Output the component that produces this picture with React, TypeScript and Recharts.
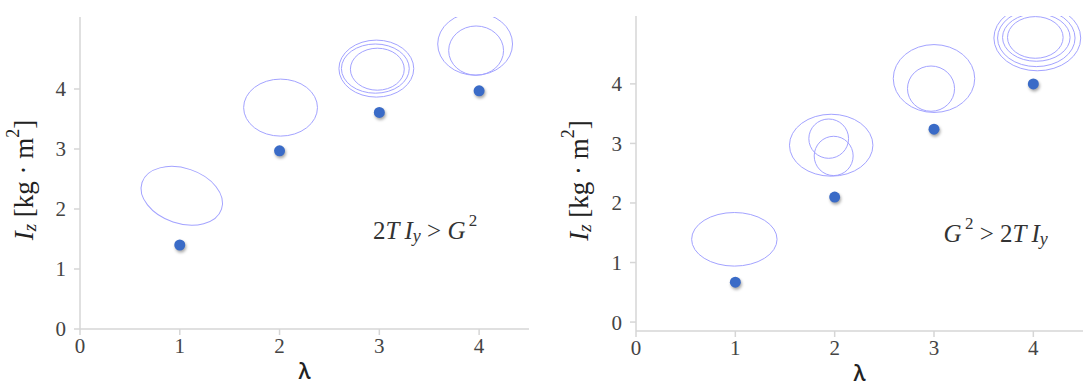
import React from 'react';
import { ScatterChart, Scatter, XAxis, YAxis } from 'recharts';

// ---- data ----
const lambdaTicks = [0, 1, 2, 3, 4];
const izTicks = [0, 1, 2, 3, 4];
const lambdaValues = [1, 2, 3, 4];
const izCaseA = [1.4, 2.97, 3.61, 3.97]; // 2TIy > G^2
const izCaseB = [0.67, 2.1, 3.24, 4.0]; // G^2 > 2TIy

// ellipse outlines: centre (x = λ, y = Iz), semi-axes in axis units, tilt in degrees
const ellipsesCaseA = [
  { x: 1.02, y: 2.22, rx: 0.42, ry: 0.46, tilt: 18.5 },
  { x: 2.01, y: 3.69, rx: 0.37, ry: 0.475, tilt: 0 },
  { x: 2.97, y: 4.34, rx: 0.375, ry: 0.475, tilt: 0 },
  { x: 2.96, y: 4.34, rx: 0.34, ry: 0.41, tilt: 0 },
  { x: 2.98, y: 4.33, rx: 0.27, ry: 0.35, tilt: 0 },
  { x: 3.96, y: 4.75, rx: 0.375, ry: 0.52, tilt: 0 },
  { x: 3.97, y: 4.64, rx: 0.275, ry: 0.41, tilt: 0 },
];
const ellipsesCaseB = [
  { x: 0.99, y: 1.39, rx: 0.43, ry: 0.45, tilt: 0 },
  { x: 1.965, y: 2.97, rx: 0.42, ry: 0.52, tilt: 0 },
  { x: 1.94, y: 3.08, rx: 0.2, ry: 0.33, tilt: 0 },
  { x: 1.99, y: 2.79, rx: 0.196, ry: 0.33, tilt: 0 },
  { x: 3.0, y: 4.09, rx: 0.41, ry: 0.57, tilt: 0 },
  { x: 2.97, y: 3.92, rx: 0.237, ry: 0.38, tilt: 0 },
  { x: 4.04, y: 4.77, rx: 0.437, ry: 0.55, tilt: 0 },
  { x: 4.03, y: 4.77, rx: 0.39, ry: 0.48, tilt: 0 },
  { x: 4.03, y: 4.78, rx: 0.34, ry: 0.4, tilt: 0 },
  { x: 4.02, y: 4.78, rx: 0.28, ry: 0.35, tilt: 0 },
];
const noteCaseA = [{ x: 3.46, y: 1.65 }];
const noteCaseB = [{ x: 3.62, y: 1.5 }];

// ---- styles ----
const SERIF = "'Liberation Serif', 'DejaVu Serif', serif";
const AXIS_COLOR = '#d6d6d6';
const TICK_TEXT = '#444';
const DOT_COLOR = '#3a6bc7';
const ELLIPSE_COLOR = '#a3a3ff';

const W = 546;
const H = 390;
const X_AXIS_H = 30;
const X_DOMAIN: [number, number] = [0, 4.5];

type PanelProps = {
  iz: number[];
  ellipses: { x: number; y: number; rx: number; ry: number; tilt: number }[];
  note: { x: number; y: number }[];
  noteKind: 'A' | 'B';
  yDomain: [number, number];
  margin: { top: number; right: number; bottom: number; left: number };
  yAxisWidth: number;
  labelX: number;
};

function NoteText({ kind, cx, cy }: { kind: 'A' | 'B'; cx: number; cy: number }) {
  const common = { fontFamily: SERIF, fontSize: 25, fill: '#333' } as const;
  if (kind === 'A') {
    return (
      <text x={cx} y={cy} textAnchor="middle" dominantBaseline="central" {...common}>
        <tspan>2</tspan>
        <tspan fontStyle="italic">{'T\u2009I'}</tspan>
        <tspan fontStyle="italic" fontSize={18} dy={6}>y</tspan>
        <tspan dy={-6}>{'\u00a0>\u00a0'}</tspan>
        <tspan fontStyle="italic">G</tspan>
        <tspan fontSize={17} dy={-10}>{'\u20092'}</tspan>
      </text>
    );
  }
  return (
    <text x={cx} y={cy} textAnchor="middle" dominantBaseline="central" {...common}>
      <tspan fontStyle="italic">G</tspan>
      <tspan fontSize={17} dy={-10}>{'\u20092'}</tspan>
      <tspan dy={10}>{'\u00a0>\u00a02'}</tspan>
      <tspan fontStyle="italic">{'T\u2009I'}</tspan>
      <tspan fontStyle="italic" fontSize={18} dy={6}>y</tspan>
    </text>
  );
}

function Panel({ iz, ellipses, note, noteKind, yDomain, margin, yAxisWidth, labelX }: PanelProps) {
  const plotW = W - margin.left - margin.right - yAxisWidth;
  const plotH = H - margin.top - margin.bottom - X_AXIS_H;
  const pxPerX = plotW / (X_DOMAIN[1] - X_DOMAIN[0]);
  const pxPerY = plotH / (yDomain[1] - yDomain[0]);
  const points = lambdaValues.map((x, i) => ({ x, y: iz[i] }));

  const ellipseShape = (p: any) => {
    const e = p.payload;
    return (
      <ellipse
        cx={p.cx}
        cy={p.cy}
        rx={e.rx * pxPerX}
        ry={e.ry * pxPerY}
        transform={`rotate(${e.tilt} ${p.cx} ${p.cy})`}
        fill="none"
        stroke={ELLIPSE_COLOR}
        strokeWidth={1}
      />
    );
  };
  const dotShape = (p: any) => (
    <circle
      cx={p.cx}
      cy={p.cy}
      r={5.5}
      fill={DOT_COLOR}
      style={{ filter: 'drop-shadow(1px 2px 1.5px rgba(0,0,0,0.35))' }}
    />
  );
  const noteShape = (p: any) => <NoteText kind={noteKind} cx={p.cx} cy={p.cy} />;

  const yLabel = (props: any) => {
    const vb = props.viewBox || { x: 0, y: margin.top, width: yAxisWidth, height: plotH };
    const x = labelX;
    const y = vb.y + vb.height / 2 + 7;
    return (
      <text
        x={x}
        y={y}
        transform={`rotate(-90 ${x} ${y})`}
        textAnchor="middle"
        dominantBaseline="central"
        fontFamily={SERIF}
        fontSize={27}
        fill="#222"
      >
        <tspan fontStyle="italic">I</tspan>
        <tspan fontStyle="italic" fontSize={19} dy={5}>z</tspan>
        <tspan dy={-5}>{'\u00a0[kg\u00a0\u00b7\u00a0m'}</tspan>
        <tspan fontSize={18} dy={-11}>2</tspan>
        <tspan dy={11}>]</tspan>
      </text>
    );
  };

  return (
    <ScatterChart width={W} height={H} margin={margin}>
      <XAxis
        type="number"
        dataKey="x"
        domain={X_DOMAIN}
        ticks={lambdaTicks}
        allowDataOverflow
        height={X_AXIS_H}
        stroke={AXIS_COLOR}
        strokeWidth={1.5}
        tickSize={6}
        tickMargin={3}
        tick={{ fill: TICK_TEXT, fontFamily: SERIF, fontSize: 21 }}
        tickLine={{ stroke: AXIS_COLOR, strokeWidth: 1.5 }}
        label={{
          value: '\u03bb',
          position: 'bottom',
          offset: 5,
          fill: '#222',
          fontSize: 21,
          fontWeight: 600,
          fontFamily: "'Open Sans', 'Noto Sans', sans-serif",
        }}
      />
      <YAxis
        type="number"
        dataKey="y"
        domain={yDomain}
        ticks={izTicks}
        allowDataOverflow
        width={yAxisWidth}
        stroke={AXIS_COLOR}
        strokeWidth={1.5}
        tickSize={6}
        tickMargin={8}
        tick={{ fill: TICK_TEXT, fontFamily: SERIF, fontSize: 21 }}
        tickLine={{ stroke: AXIS_COLOR, strokeWidth: 1.5 }}
        label={yLabel}
      />
      <Scatter data={ellipses} shape={ellipseShape} isAnimationActive={false} />
      <Scatter data={points} shape={dotShape} isAnimationActive={false} />
      <Scatter data={note} shape={noteShape} isAnimationActive={false} />
    </ScatterChart>
  );
}

export default function App() {
  return (
    <div style={{ position: 'absolute', left: 0, top: 0, width: 1092, height: 390, background: '#fff' }}>
      <div style={{ position: 'absolute', left: 0, top: 0 }}>
        <Panel
          iz={izCaseA}
          ellipses={ellipsesCaseA}
          note={noteCaseA}
          noteKind="A"
          yDomain={[0, 5.2]}
          margin={{ top: 17, right: 17, bottom: 31, left: 20 }}
          yAxisWidth={60}
          labelX={24}
        />
      </div>
      <div style={{ position: 'absolute', left: 546, top: 0 }}>
        <Panel
          iz={izCaseB}
          ellipses={ellipsesCaseB}
          note={noteCaseB}
          noteKind="B"
          yDomain={[-0.15, 5.14]}
          margin={{ top: 16, right: 9, bottom: 29, left: 20 }}
          yAxisWidth={70}
          labelX={33}
        />
      </div>
    </div>
  );
}
